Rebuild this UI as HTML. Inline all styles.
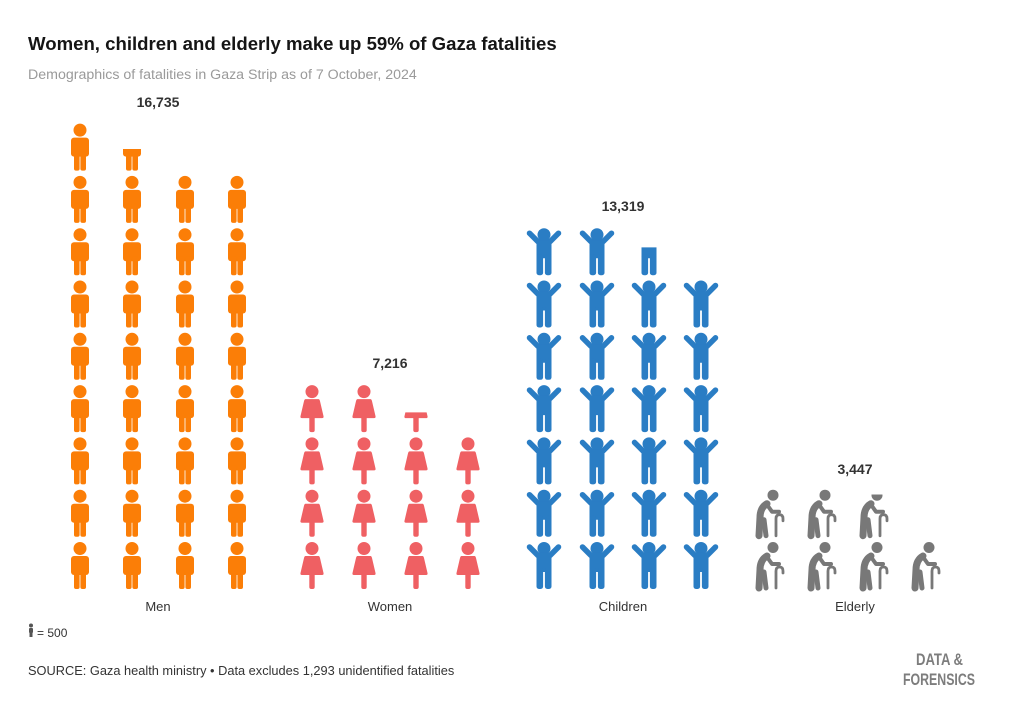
<!DOCTYPE html>
<html><head><meta charset="utf-8"><style>
html,body{margin:0;padding:0;background:#fff;}
body{width:1020px;height:721px;overflow:hidden;font-family:"Liberation Sans",sans-serif;}
</style></head><body>
<svg width="1020" height="721" viewBox="0 0 1020 721" xmlns="http://www.w3.org/2000/svg">
<defs>
<g id="man" fill="#fb7e07">
<circle cx="20" cy="6.5" r="6.5"/>
<rect x="11" y="14" width="18" height="19" rx="3"/>
<rect x="14" y="28" width="5.6" height="19" rx="2"/>
<rect x="20.4" y="28" width="5.6" height="19" rx="2"/>
</g>
<g id="woman" fill="#ef6063">
<circle cx="20" cy="6.5" r="6.5"/>
<path d="M13.5,14 H26.5 Q27.5,14 28,16 L31.5,31 Q32,33 30,33 H10 Q8,33 8.5,31 L12,16 Q12.5,14 13.5,14Z"/>
<rect x="17.3" y="31" width="5.4" height="16" rx="2"/>
</g>
<g id="child" fill="#2a7dc4">
<circle cx="20" cy="6.5" r="6.5"/>
<path d="M5.5,5 L14,13.5 H26 L34.5,5" stroke="#2a7dc4" stroke-width="5.5" stroke-linecap="round" stroke-linejoin="round" fill="none"/>
<rect x="12.5" y="12" width="15" height="18" rx="2"/>
<rect x="12.5" y="26" width="6.6" height="21" rx="2.5"/>
<rect x="20.9" y="26" width="6.6" height="21" rx="2.5"/>
</g>
<g id="old" fill="none" stroke="#787878" stroke-linecap="round" stroke-linejoin="round">
<circle cx="25" cy="5.5" r="5.5" fill="#787878" stroke="none"/>
<path d="M19,14 Q12,18 12,28 L11,46" stroke-width="7"/>
<path d="M16,30 L18,46" stroke-width="5"/>
<path d="M19,15 L24,22 L31,22" stroke-width="4"/>
<path d="M28,46 V29 Q28,25 31.5,25 Q35,25 35,29 V31" stroke-width="2.8"/>
</g>
<clipPath id="c47"><rect x="0" y="25.4" width="40" height="30"/></clipPath>
<clipPath id="c43"><rect x="0" y="27.3" width="40" height="30"/></clipPath>
<clipPath id="c60"><rect x="0" y="19.2" width="40" height="35"/></clipPath>
<clipPath id="c90"><rect x="0" y="4.8" width="40" height="50"/></clipPath>
</defs>

<text x="28" y="50" font-size="18.6" font-weight="bold" fill="#151515">Women, children and elderly make up 59% of Gaza fatalities</text>
<text x="28" y="79" font-size="14.2" fill="#9a9a9a">Demographics of fatalities in Gaza Strip as of 7 October, 2024</text>

<g font-size="14" font-weight="bold" fill="#333" text-anchor="middle">
<text x="158" y="107">16,735</text>
<text x="390" y="368">7,216</text>
<text x="623" y="211">13,319</text>
<text x="855" y="474">3,447</text>
</g>
<g font-size="13" fill="#333" text-anchor="middle">
<text x="158" y="611">Men</text>
<text x="390" y="611">Women</text>
<text x="623" y="611">Children</text>
<text x="855" y="611">Elderly</text>
</g>

<!-- Men -->
<g>
<g transform="translate(60,542)"><use href="#man"/></g><g transform="translate(112,542)"><use href="#man"/></g><g transform="translate(165,542)"><use href="#man"/></g><g transform="translate(217,542)"><use href="#man"/></g>
<g transform="translate(60,489.7)"><use href="#man"/></g><g transform="translate(112,489.7)"><use href="#man"/></g><g transform="translate(165,489.7)"><use href="#man"/></g><g transform="translate(217,489.7)"><use href="#man"/></g>
<g transform="translate(60,437.4)"><use href="#man"/></g><g transform="translate(112,437.4)"><use href="#man"/></g><g transform="translate(165,437.4)"><use href="#man"/></g><g transform="translate(217,437.4)"><use href="#man"/></g>
<g transform="translate(60,385.1)"><use href="#man"/></g><g transform="translate(112,385.1)"><use href="#man"/></g><g transform="translate(165,385.1)"><use href="#man"/></g><g transform="translate(217,385.1)"><use href="#man"/></g>
<g transform="translate(60,332.8)"><use href="#man"/></g><g transform="translate(112,332.8)"><use href="#man"/></g><g transform="translate(165,332.8)"><use href="#man"/></g><g transform="translate(217,332.8)"><use href="#man"/></g>
<g transform="translate(60,280.5)"><use href="#man"/></g><g transform="translate(112,280.5)"><use href="#man"/></g><g transform="translate(165,280.5)"><use href="#man"/></g><g transform="translate(217,280.5)"><use href="#man"/></g>
<g transform="translate(60,228.2)"><use href="#man"/></g><g transform="translate(112,228.2)"><use href="#man"/></g><g transform="translate(165,228.2)"><use href="#man"/></g><g transform="translate(217,228.2)"><use href="#man"/></g>
<g transform="translate(60,175.9)"><use href="#man"/></g><g transform="translate(112,175.9)"><use href="#man"/></g><g transform="translate(165,175.9)"><use href="#man"/></g><g transform="translate(217,175.9)"><use href="#man"/></g>
<g transform="translate(60,123.6)"><use href="#man"/></g><g transform="translate(112,123.6)"><use href="#man" clip-path="url(#c47)"/></g>
</g>

<!-- Women -->
<g>
<g transform="translate(292,542)"><use href="#woman"/></g><g transform="translate(344,542)"><use href="#woman"/></g><g transform="translate(396,542)"><use href="#woman"/></g><g transform="translate(448,542)"><use href="#woman"/></g>
<g transform="translate(292,489.7)"><use href="#woman"/></g><g transform="translate(344,489.7)"><use href="#woman"/></g><g transform="translate(396,489.7)"><use href="#woman"/></g><g transform="translate(448,489.7)"><use href="#woman"/></g>
<g transform="translate(292,437.4)"><use href="#woman"/></g><g transform="translate(344,437.4)"><use href="#woman"/></g><g transform="translate(396,437.4)"><use href="#woman"/></g><g transform="translate(448,437.4)"><use href="#woman"/></g>
<g transform="translate(292,385.1)"><use href="#woman"/></g><g transform="translate(344,385.1)"><use href="#woman"/></g><g transform="translate(396,385.1)"><use href="#woman" clip-path="url(#c43)"/></g>
</g>

<!-- Children -->
<g>
<g transform="translate(524,542)"><use href="#child"/></g><g transform="translate(577,542)"><use href="#child"/></g><g transform="translate(629,542)"><use href="#child"/></g><g transform="translate(681,542)"><use href="#child"/></g>
<g transform="translate(524,489.7)"><use href="#child"/></g><g transform="translate(577,489.7)"><use href="#child"/></g><g transform="translate(629,489.7)"><use href="#child"/></g><g transform="translate(681,489.7)"><use href="#child"/></g>
<g transform="translate(524,437.4)"><use href="#child"/></g><g transform="translate(577,437.4)"><use href="#child"/></g><g transform="translate(629,437.4)"><use href="#child"/></g><g transform="translate(681,437.4)"><use href="#child"/></g>
<g transform="translate(524,385.1)"><use href="#child"/></g><g transform="translate(577,385.1)"><use href="#child"/></g><g transform="translate(629,385.1)"><use href="#child"/></g><g transform="translate(681,385.1)"><use href="#child"/></g>
<g transform="translate(524,332.8)"><use href="#child"/></g><g transform="translate(577,332.8)"><use href="#child"/></g><g transform="translate(629,332.8)"><use href="#child"/></g><g transform="translate(681,332.8)"><use href="#child"/></g>
<g transform="translate(524,280.5)"><use href="#child"/></g><g transform="translate(577,280.5)"><use href="#child"/></g><g transform="translate(629,280.5)"><use href="#child"/></g><g transform="translate(681,280.5)"><use href="#child"/></g>
<g transform="translate(524,228.2)"><use href="#child"/></g><g transform="translate(577,228.2)"><use href="#child"/></g><g transform="translate(629,228.2)"><use href="#child" clip-path="url(#c60)"/></g>
</g>

<!-- Elderly -->
<g>
<g transform="translate(748,542)"><use href="#old"/></g><g transform="translate(800,542)"><use href="#old"/></g><g transform="translate(852,542)"><use href="#old"/></g><g transform="translate(904,542)"><use href="#old"/></g>
<g transform="translate(748,489.7)"><use href="#old"/></g><g transform="translate(800,489.7)"><use href="#old"/></g><g transform="translate(852,489.7)"><use href="#old" clip-path="url(#c90)"/></g>
</g>

<!-- legend -->
<g fill="#555">
<circle cx="31" cy="625.5" r="2"/>
<rect x="29" y="628" width="4" height="5" rx="1"/>
<rect x="29.5" y="632" width="3" height="5"/>
</g>
<text x="37" y="637" font-size="12" fill="#333">= 500</text>

<text x="28" y="675" font-size="12.8" fill="#333">SOURCE: Gaza health ministry • Data excludes 1,293 unidentified fatalities</text>

<g font-size="17" font-weight="bold" fill="#7d7d7d" font-family="'Liberation Sans Narrow','Liberation Sans',sans-serif">
<text x="916" y="665" textLength="47" lengthAdjust="spacingAndGlyphs">DATA &amp;</text>
<text x="903" y="685" textLength="72" lengthAdjust="spacingAndGlyphs">FORENSICS</text>
</g>
</svg>
</body></html>
